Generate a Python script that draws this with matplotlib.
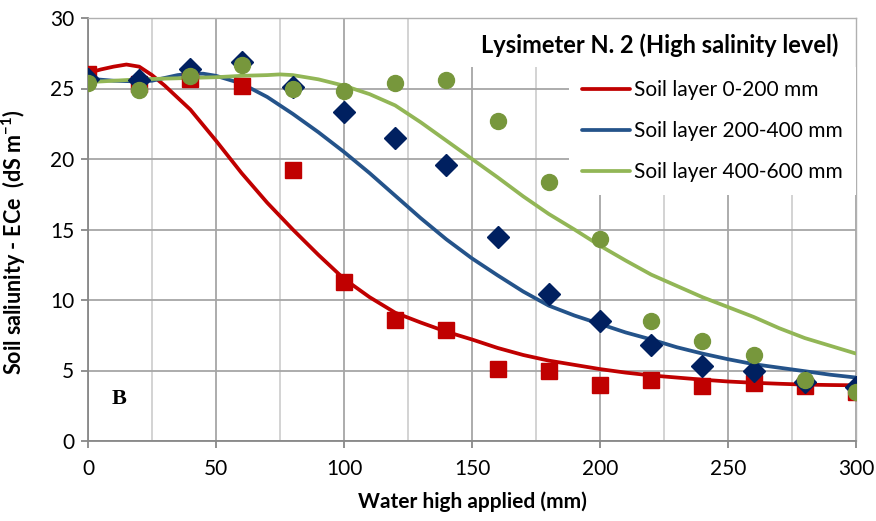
import matplotlib
matplotlib.use("Agg")
import matplotlib.pyplot as plt
from matplotlib.patches import Rectangle
from matplotlib.ticker import MultipleLocator

plt.rcParams['font.family'] = ['Lato', 'DejaVu Sans']
plt.rcParams['mathtext.fontset'] = 'custom'
plt.rcParams['mathtext.rm'] = 'Lato:bold'
plt.rcParams['mathtext.default'] = 'rm'

# Measured points
x_pts = [0, 20, 40, 60, 80, 100, 120, 140, 160, 180, 200, 220, 240, 260, 280, 300]
red_pts = [26.0, 25.3, 25.7, 25.2, 19.2, 11.3, 8.6, 7.9, 5.1, 5.0, 4.0, 4.3, 3.9, 4.1, 3.9, 3.5]
blue_pts = [25.7, 25.6, 26.4, 26.9, 25.1, 23.3, 21.5, 19.6, 14.5, 10.4, 8.5, 6.8, 5.3, 5.0, 4.2, 3.8]
green_pts = [25.4, 24.9, 25.9, 26.7, 25.0, 24.8, 25.4, 25.6, 22.7, 18.4, 14.3, 8.5, 7.1, 6.1, 4.3, 3.5]

# Trend curves
red_cx = [0, 5, 10, 15, 20, 25, 30, 40, 50, 60, 70, 80, 90, 100, 110, 120, 130, 140, 150, 160,
          170, 180, 190, 200, 210, 220, 230, 240, 250, 260, 270, 280, 290, 300]
red_cy = [26.1, 26.35, 26.55, 26.7, 26.55, 25.95, 25.2, 23.5, 21.3, 19.0, 16.9, 15.0, 13.2, 11.5,
          10.2, 9.1, 8.4, 7.75, 7.2, 6.6, 6.1, 5.7, 5.4, 5.1, 4.85, 4.65, 4.5, 4.35, 4.22, 4.13,
          4.06, 4.0, 3.97, 3.95]
blue_cx = [0, 10, 20, 25, 30, 35, 40, 45, 50, 60, 70, 80, 90, 100, 110, 120, 130, 140, 150, 160,
           170, 180, 190, 200, 210, 220, 230, 240, 250, 260, 270, 280, 290, 300]
blue_cy = [25.7, 25.55, 25.5, 25.55, 25.75, 25.95, 26.05, 26.05, 25.9, 25.35, 24.4, 23.2, 21.9,
           20.5, 19.0, 17.4, 15.8, 14.3, 12.95, 11.75, 10.6, 9.6, 8.9, 8.3, 7.7, 7.2, 6.65, 6.2,
           5.8, 5.45, 5.2, 4.95, 4.7, 4.5]
green_cx = [0, 10, 20, 30, 40, 50, 60, 70, 75, 80, 90, 100, 110, 120, 130, 140, 150, 160, 170,
            180, 190, 200, 210, 220, 230, 240, 250, 260, 270, 280, 290, 300]
green_cy = [25.45, 25.55, 25.65, 25.7, 25.75, 25.8, 25.9, 25.95, 26.0, 25.95, 25.65, 25.2, 24.6,
            23.8, 22.6, 21.3, 20.0, 18.7, 17.35, 16.1, 15.0, 13.85, 12.8, 11.8, 11.0, 10.2, 9.5,
            8.8, 8.0, 7.3, 6.75, 6.2]

labels = ["Soil layer 0-200 mm", "Soil layer 200-400 mm", "Soil layer 400-600 mm"]
title = "Lysimeter N. 2 (High salinity level)"

fig = plt.figure(figsize=(8.76, 5.21), dpi=100)
ax = fig.add_axes([88/876, 1-441/521, 768/876, 423/521])

red = "#C00000"
blue_l = "#24538A"
blue_m = "#002060"
green_l = "#92B656"
green_m = "#77973C"

ax.plot(red_cx, red_cy, color=red, lw=2.7, zorder=3, label=labels[0], solid_capstyle='round')
ax.plot(blue_cx, blue_cy, color=blue_l, lw=2.7, zorder=3, label=labels[1], solid_capstyle='round')
ax.plot(green_cx, green_cy, color=green_l, lw=2.7, zorder=3, label=labels[2], solid_capstyle='round')

ax.plot(x_pts, red_pts, ls='none', marker='s', ms=11.5, color=red, mec=red, zorder=4)
ax.plot(x_pts, blue_pts, ls='none', marker='D', ms=11.5, color=blue_m, mec=blue_m, zorder=5)
ax.plot(x_pts, green_pts, ls='none', marker='o', ms=11.5, color=green_m, mec=green_m, zorder=6)

ax.set_xlim(0, 300)
ax.set_ylim(0, 30)
ax.xaxis.set_major_locator(MultipleLocator(50))
ax.xaxis.set_minor_locator(MultipleLocator(25))
ax.yaxis.set_major_locator(MultipleLocator(5))
ax.set_axisbelow(True)
ax.grid(which='major', axis='both', color='#A6A6A6', lw=1.3)
ax.grid(which='minor', axis='x', color='#D0D0D0', lw=1.3)
ax.tick_params(which='major', direction='out', length=5, width=1.3, color='#888888',
               labelsize=15, pad=5)
ax.tick_params(which='minor', length=0)
ax.tick_params(axis='x', pad=8)
for s in ['left', 'bottom']:
    ax.spines[s].set_color('#888888')
    ax.spines[s].set_linewidth(1.3)
for s in ['top', 'right']:
    ax.spines[s].set_color('#B0B0B0')
    ax.spines[s].set_linewidth(1.0)

# white boxes for title and legend
ax.add_patch(Rectangle((0.497, 0.884), 0.503, 0.116, transform=ax.transAxes,
                       facecolor='white', edgecolor='none', zorder=2.5))
ax.text(0.977, 0.936, title, transform=ax.transAxes, ha='right', va='center',
        fontsize=17, fontweight='bold', zorder=7)

leg = ax.legend(loc='upper right', bbox_to_anchor=(1.0, 0.884), frameon=True,
                fontsize=15, handlelength=2.3, handletextpad=0.2, labelspacing=1.02,
                borderpad=0.62, borderaxespad=0.0, fancybox=False)
leg.get_frame().set_facecolor('white')
leg.get_frame().set_edgecolor('none')
leg.get_frame().set_alpha(1)
leg.set_zorder(7)

ax.text(12, 3.0, "B", fontsize=16, fontweight='bold', family='Liberation Serif',
        ha='center', va='center', zorder=7)

ax.set_xlabel("Water high applied (mm)", fontsize=15, fontweight='bold', labelpad=9)
ax.set_ylabel("Soil saliunity - ECe  (dS m$^{-1}$)", fontsize=15.5, fontweight='bold')
ax.yaxis.set_label_coords(-0.078, 0.47)

fig.savefig("out.png", dpi=100)
